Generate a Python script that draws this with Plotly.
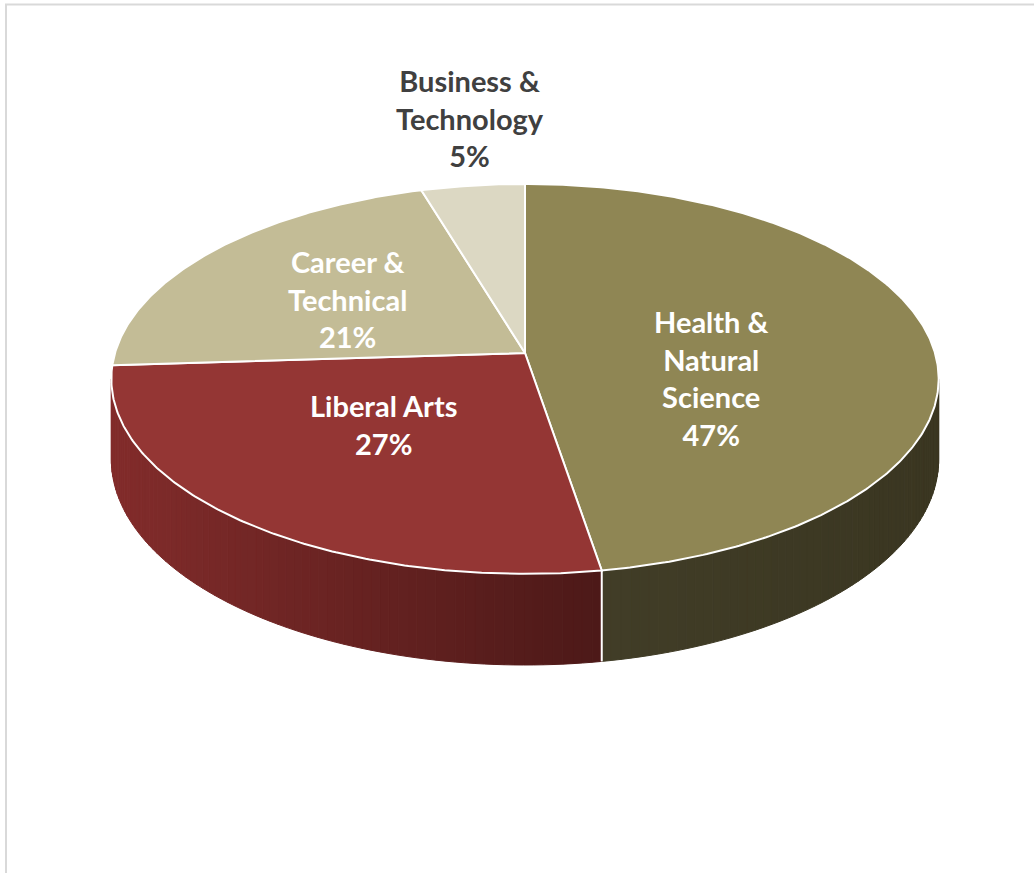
import numpy as np
import plotly.graph_objects as go

# ---------------- data ----------------
categories = ["Health & Natural Science", "Liberal Arts", "Career & Technical", "Business & Technology"]
label_lines = ["Health &<br>Natural<br>Science", "Liberal Arts", "Career &<br>Technical", "Business &<br>Technology"]
values = [47.4, 26.6, 21.4, 4.6]

# ---------------- style ----------------
top_colors = ["#8f8654", "#943634", "#c3bc96", "#dcd8c3"]
side_colors = [("#413d27", "#3a3621"), ("#822c2b", "#4c1918"), ("#9c9474", "#8a8366"), ("#b6b29e", "#a5a18f")]
label_colors = ["white", "white", "white", "#404040"]
label_nudge = [(-17, 33), (-7, -8), (-16, -1), (11, -25)]  # pixel tweaks for label placement

W, H = 1034, 873
CX, CY = 525.0, 353.0      # apex of the pie on screen
KX, KY = 410.0, 191.5      # horizontal / vertical radius factors
P = 0.133                  # perspective strength
DEPTH = 79.0               # thickness of the pie
THETA_R = np.degrees(np.arccos(-P))          # right silhouette angle
THETA_L = 360 - THETA_R                      # left silhouette angle


def proj(theta_deg, r=1.0, drop=0.0):
    t = np.radians(np.asarray(theta_deg, dtype=float))
    u = r * np.sin(t)
    v = r * np.cos(t)
    den = 1 + P * v
    x = CX + KX * u / den
    y = CY - KY * v / den + drop / den
    return x, y


def hex_to_rgb(h):
    h = h.lstrip("#")
    return np.array([int(h[i:i + 2], 16) for i in (0, 2, 4)], dtype=float)


def mix(c0, c1, t):
    c = hex_to_rgb(c0) * (1 - t) + hex_to_rgb(c1) * t
    return "rgb(%d,%d,%d)" % tuple(np.clip(np.round(c), 0, 255))


total = float(sum(values))
fracs = [v / total for v in values]
starts = np.concatenate([[0.0], np.cumsum(fracs)[:-1]]) * 360.0
ends = np.cumsum(fracs) * 360.0

fig = go.Figure()

# ---------------- side walls (visible front part) ----------------
for i in range(len(values)):
    lo = max(starts[i], THETA_R)
    hi = min(ends[i], THETA_L)
    if hi <= lo:
        continue
    arc = np.linspace(lo, hi, 200)
    ax, _ = proj(arc)
    xmin, xmax = ax.min(), ax.max()
    n = int((hi - lo) / 1.2) + 1
    edges = np.linspace(lo, hi, n + 1)
    for j in range(n):
        th = np.linspace(edges[j], edges[j + 1], 5)
        xt, yt = proj(th)
        xb, yb = proj(th[::-1], drop=DEPTH)
        xs = np.concatenate([xt, xb, xt[:1]])
        ys = np.concatenate([yt, yb, yt[:1]])
        tcol = (xt.mean() - xmin) / (xmax - xmin) if xmax > xmin else 0
        col = mix(side_colors[i][0], side_colors[i][1], float(np.clip(tcol, 0, 1)))
        fig.add_trace(go.Scatter(x=xs, y=ys, mode="lines", fill="toself", fillcolor=col,
                                 line=dict(color=col, width=1), hoverinfo="skip", showlegend=False))

# white separator on the side where two visible slices meet
for i in range(len(values)):
    b = ends[i]
    if THETA_R < b < THETA_L:
        x0, y0 = proj(b)
        x1, y1 = proj(b, drop=DEPTH)
        fig.add_trace(go.Scatter(x=[x0, x1], y=[y0, y1], mode="lines",
                                 line=dict(color="white", width=2), hoverinfo="skip", showlegend=False))

# ---------------- top faces ----------------
for i in range(len(values)):
    th = np.linspace(starts[i], ends[i], max(int((ends[i] - starts[i]) * 2), 8))
    xa, ya = proj(th)
    xs = np.concatenate([[CX], xa, [CX]])
    ys = np.concatenate([[CY], ya, [CY]])
    fig.add_trace(go.Scatter(x=xs, y=ys, mode="lines", fill="toself", fillcolor=top_colors[i],
                             line=dict(color="white", width=2), hoverinfo="skip", showlegend=False,
                             name=categories[i]))

# ---------------- labels ----------------
annotations = []
for i in range(len(values)):
    mid = (starts[i] + ends[i]) / 2
    outside = fracs[i] < 0.10
    lx, ly = proj(mid, r=1.3 if outside else 0.5)
    lx += label_nudge[i][0]
    ly += label_nudge[i][1]
    pct = "%d%%" % round(fracs[i] * 100)
    annotations.append(dict(x=float(lx), y=float(ly), xref="x", yref="y",
                            text=label_lines[i] + "<br>" + pct, showarrow=False,
                            xanchor="center", yanchor="middle", align="center",
                            font=dict(family="Lato", size=29, color=label_colors[i], weight=700)))

fig.update_layout(
    width=W, height=H,
    margin=dict(l=0, r=0, t=0, b=0),
    paper_bgcolor="white", plot_bgcolor="white",
    xaxis=dict(range=[0, W], visible=False, fixedrange=True),
    yaxis=dict(range=[H, 0], visible=False, fixedrange=True),
    showlegend=False,
    annotations=annotations,
    shapes=[dict(type="rect", xref="x", yref="y", x0=6, y0=4.5, x1=W + 20, y1=H + 20,
                 line=dict(color="#d9d9d9", width=2), fillcolor="rgba(0,0,0,0)", layer="above")],
)

fig.write_html("out.html", config={"displayModeBar": False},
               post_script="document.body.style.margin='0';document.body.style.overflow='hidden';")
